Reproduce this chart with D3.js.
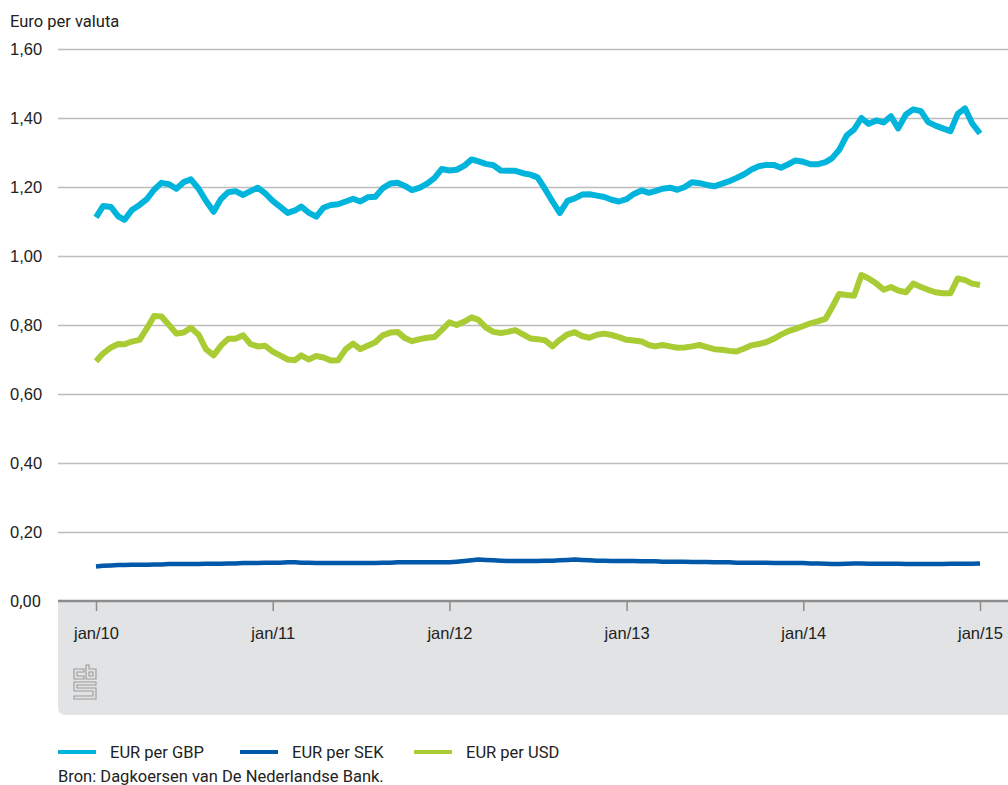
<!DOCTYPE html>
<html>
<head>
<meta charset="utf-8">
<script src="https://cdn.jsdelivr.net/npm/d3@7"></script>
<style>
  body { margin: 0; background: #fff; }
  svg { font-family: Roboto, "Open Sans", sans-serif; }
</style>
</head>
<body>
<svg id="chart"></svg>
<script>
// Semi-monthly readings (1st and 16th of each month), jan 2010 - jan 2015
const dates = d3.range(121).map(i => new Date(2010, Math.floor(i / 2), i % 2 ? 16 : 1));

const gbp = [
  1.112, 1.145, 1.142, 1.115, 1.105, 1.133, 1.148, 1.165, 1.192, 1.212, 1.208, 1.195,
  1.214, 1.222, 1.195, 1.160, 1.128, 1.165, 1.185, 1.188, 1.177, 1.188, 1.198, 1.182,
  1.160, 1.143, 1.125, 1.132, 1.143, 1.126, 1.114, 1.140, 1.148, 1.150, 1.158, 1.166,
  1.158, 1.170, 1.172, 1.196, 1.210, 1.212, 1.203, 1.191, 1.198, 1.210, 1.226, 1.252,
  1.248, 1.250, 1.262, 1.280, 1.274, 1.267, 1.263, 1.248, 1.247, 1.247, 1.240, 1.236,
  1.228, 1.195, 1.158, 1.125, 1.160, 1.167, 1.178, 1.179, 1.175, 1.171, 1.163, 1.158,
  1.165, 1.180, 1.190, 1.183, 1.188, 1.195, 1.198, 1.192, 1.200, 1.214, 1.211, 1.206,
  1.202, 1.209, 1.217, 1.226, 1.237, 1.251, 1.260, 1.264, 1.264, 1.256, 1.266, 1.277,
  1.273, 1.266, 1.266, 1.272, 1.283, 1.307, 1.350, 1.367, 1.400, 1.383, 1.393, 1.387,
  1.405, 1.370, 1.410, 1.425, 1.420, 1.388, 1.378, 1.370, 1.362, 1.412, 1.428, 1.384,
  1.355
];

const sek = [
  0.100, 0.102, 0.103, 0.104, 0.104, 0.105, 0.105, 0.105, 0.106, 0.106, 0.107, 0.107,
  0.107, 0.107, 0.107, 0.108, 0.108, 0.108, 0.109, 0.109, 0.110, 0.110, 0.110, 0.111,
  0.111, 0.111, 0.112, 0.112, 0.111, 0.111, 0.110, 0.110, 0.110, 0.110, 0.110, 0.110,
  0.110, 0.110, 0.110, 0.111, 0.111, 0.112, 0.112, 0.112, 0.112, 0.112, 0.112, 0.112,
  0.112, 0.114, 0.116, 0.118, 0.120, 0.119, 0.118, 0.117, 0.116, 0.116, 0.116, 0.116,
  0.116, 0.117, 0.117, 0.118, 0.119, 0.120, 0.119, 0.118, 0.117, 0.117, 0.116, 0.116,
  0.116, 0.116, 0.115, 0.115, 0.115, 0.114, 0.114, 0.114, 0.114, 0.113, 0.113, 0.113,
  0.112, 0.112, 0.112, 0.111, 0.111, 0.111, 0.111, 0.111, 0.110, 0.110, 0.110, 0.110,
  0.110, 0.109, 0.109, 0.108, 0.107, 0.107, 0.108, 0.109, 0.109, 0.108, 0.108, 0.108,
  0.108, 0.108, 0.107, 0.107, 0.107, 0.107, 0.107, 0.107, 0.108, 0.108, 0.108, 0.108,
  0.109
];

const usd = [
  0.695, 0.718, 0.735, 0.745, 0.744, 0.752, 0.757, 0.790, 0.826, 0.825, 0.800, 0.775,
  0.778, 0.792, 0.772, 0.730, 0.712, 0.740, 0.760, 0.760, 0.770, 0.745, 0.738, 0.740,
  0.723, 0.712, 0.700, 0.698, 0.712, 0.700, 0.710, 0.706, 0.697, 0.698, 0.730, 0.746,
  0.730, 0.740, 0.750, 0.770, 0.778, 0.780, 0.762, 0.753, 0.759, 0.763, 0.765, 0.785,
  0.808, 0.800, 0.810, 0.822, 0.815, 0.793, 0.780, 0.777, 0.780, 0.785, 0.773, 0.761,
  0.759, 0.756, 0.738, 0.757, 0.773, 0.779, 0.768, 0.763, 0.772, 0.775, 0.771, 0.765,
  0.757, 0.755, 0.752, 0.742, 0.738, 0.742, 0.738, 0.734, 0.735, 0.738, 0.742, 0.736,
  0.730, 0.728, 0.725, 0.723, 0.732, 0.741, 0.745, 0.750, 0.760, 0.772, 0.782, 0.789,
  0.797, 0.805, 0.811, 0.818, 0.850, 0.890, 0.887, 0.885, 0.945, 0.935, 0.920, 0.902,
  0.910, 0.900, 0.895, 0.920, 0.910, 0.902, 0.895, 0.892, 0.892, 0.935, 0.930, 0.920,
  0.916
];

const seriesNames = ["EUR per GBP", "EUR per SEK", "EUR per USD"];
const seriesColors = ["#00b4dc", "#0058a8", "#a9cc35"];
const yTicks = [0, 0.2, 0.4, 0.6, 0.8, 1.0, 1.2, 1.4, 1.6];

const width = 1008;
const height = 785;
const fontSize = 16.5;

const svg = d3.select("#chart")
    .attr("width", width)
    .attr("height", height);

// Scales
const xScale = d3.scaleTime()
    .domain([new Date(2010, 0, 1), new Date(2015, 0, 1)])
    .range([96, 980]);

const yScale = d3.scaleLinear()
    .domain([0, 1.6])
    .range([601, 49]);

// grey panel under the axis
svg.append("path")
    .attr("d", "M58,601 H1008 V715 H66 Q58,715 58,707 Z")
    .attr("fill", "#e2e3e5");

// Gridlines + y labels
const yAxis = d3.axisLeft(yScale)
    .tickValues(yTicks.slice(1))
    .tickSize(-(width - 58))
    .tickFormat(d => d3.format(".2f")(d).replace(".", ","));

svg.append("g")
    .attr("transform", "translate(58,0)")
    .call(yAxis)
    .call(g => g.select(".domain").remove())
    .call(g => g.selectAll(".tick line").attr("stroke", "#bdbdbd").attr("stroke-width", 1.5))
    .call(g => g.selectAll(".tick text")
        .attr("x", -48).attr("text-anchor", "start")
        .attr("font-size", fontSize).attr("fill", "#222").attr("font-family", null));

svg.append("text")
    .attr("x", 10)
    .attr("y", yScale(0) + 6)
    .attr("font-size", fontSize)
    .attr("fill", "#222")
    .text("0,00");

svg.append("text")
    .attr("x", 10)
    .attr("y", 27)
    .attr("font-size", fontSize)
    .attr("fill", "#222")
    .text("Euro per valuta");

// x axis
const xAxis = d3.axisBottom(xScale)
    .ticks(d3.timeYear.every(1))
    .tickSize(10)
    .tickPadding(16)
    .tickFormat(d3.timeFormat("jan/%y"));

svg.append("g")
    .attr("transform", `translate(0,${yScale(0)})`)
    .call(xAxis)
    .call(g => g.select(".domain").remove())
    .call(g => g.selectAll(".tick line").attr("stroke", "#8c8c8c").attr("stroke-width", 1.5))
    .call(g => g.selectAll(".tick text")
        .attr("font-size", fontSize).attr("fill", "#222").attr("font-family", null));

svg.append("line")
    .attr("x1", 58).attr("x2", width)
    .attr("y1", yScale(0)).attr("y2", yScale(0))
    .attr("stroke", "#8c8c8c")
    .attr("stroke-width", 2.5);

// Lines
const line = d3.line()
    .x((d, i) => xScale(dates[i]))
    .y(d => yScale(d));

[gbp, sek, usd].forEach((vals, k) => {
  svg.append("path")
      .datum(vals)
      .attr("fill", "none")
      .attr("stroke", seriesColors[k])
      .attr("stroke-width", k === 1 ? 4.5 : 6)
      .attr("stroke-linejoin", "round")
      .attr("d", line);
});

// cbs logo
const logo = svg.append("g")
    .attr("transform", "translate(74,665)")
    .attr("fill", "none")
    .attr("stroke", "#9a9a9a")
    .attr("stroke-width", 1.1);
logo.append("path").attr("d", "M0,4 H10 V7 H3 V11 H10 V14 H0 Z");
logo.append("path").attr("d", "M12,0 H15 V4 H22 V14 H12 Z M15,7 V11 H19 V7 Z");
logo.append("path").attr("d", "M0,17 H22 V20 H3 V23 H22 V34 H0 V31 H19 V26 H0 Z");

// Legend
const legend = svg.append("g")
    .selectAll("g")
    .data(seriesNames)
    .enter()
    .append("g")
    .attr("transform", (d, i) => `translate(${[58, 240, 414][i]},752)`);

legend.append("line")
    .attr("x1", 0).attr("x2", 38)
    .attr("stroke", (d, i) => seriesColors[i])
    .attr("stroke-width", 4);

legend.append("text")
    .attr("x", 52)
    .attr("y", 6)
    .attr("font-size", fontSize)
    .attr("fill", "#222")
    .text(d => d);

svg.append("text")
    .attr("x", 58)
    .attr("y", 782)
    .attr("font-size", fontSize)
    .attr("fill", "#222")
    .text("Bron: Dagkoersen van De Nederlandse Bank.");
</script>
</body>
</html>
